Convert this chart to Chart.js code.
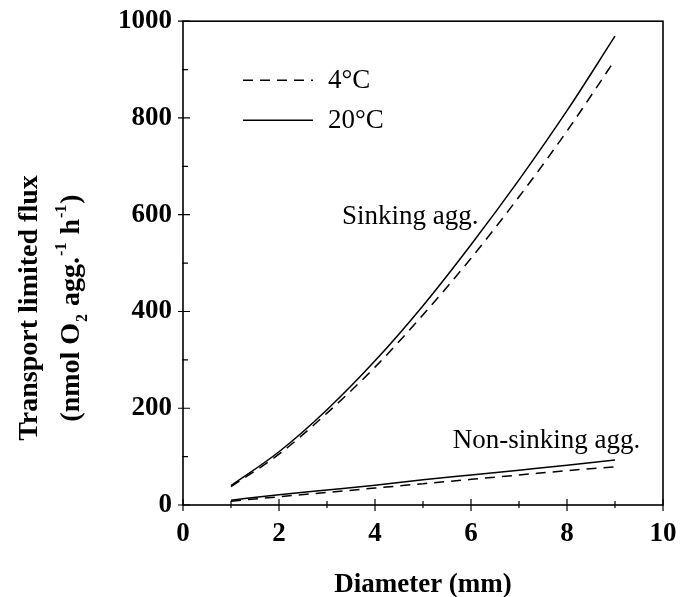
<!DOCTYPE html>
<html>
<head>
<meta charset="utf-8">
<script src="https://cdn.jsdelivr.net/npm/chart.js@4.4.1/dist/chart.umd.min.js"></script>
<style>
  html, body { margin: 0; padding: 0; background: #fff; }
  #wrap { width: 694px; height: 597px; }
</style>
</head>
<body>
<div id="wrap"><canvas id="fluxChart"></canvas></div>
<script>
// aggregate diameter (mm)
const diameters = [1, 2, 3, 4, 5, 6, 7, 8, 9];

// transport limited O2 flux (nmol O2 agg.-1 h-1)
const sinking4 = [38, 105, 190, 285, 393, 510, 637, 773, 920];
const sinking20 = [40, 110, 197, 298, 412, 538, 672, 815, 969];
const still4 = [8, 17, 26, 35, 44, 53, 62, 71, 79];
const still20 = [10, 21, 31, 41, 52, 62, 72, 82, 93];

const seriesLabels = ['4°C', '20°C'];
const curveLabels = ['Sinking agg.', 'Non-sinking agg.'];
const xTitle = 'Diameter (mm)';
const yTitle1 = 'Transport limited flux';

const SERIF = '"Liberation Serif", "Times New Roman", serif';
const DASH = [10, 7];

function pts(ys) {
    return diameters.map((d, i) => ({ x: d, y: ys[i] }));
}

function lineSet(label, ys, dashed) {
    return {
        label: label,
        data: pts(ys),
        borderColor: '#000',
        borderWidth: 1.5,
        borderDash: dashed ? DASH : [],
        pointRadius: 0,
        fill: false,
        cubicInterpolationMode: 'monotone'
    };
}

// frame, inner/outer ticks, legend, curve labels and the y title
const extras = {
    id: 'extras',
    afterDraw(chart) {
        const { ctx, chartArea: a, scales: { x, y } } = chart;
        ctx.save();
        ctx.strokeStyle = '#000';
        ctx.fillStyle = '#000';

        ctx.lineWidth = 1.6;
        ctx.strokeRect(a.left, a.top, a.right - a.left, a.bottom - a.top);

        ctx.lineWidth = 1.2;
        ctx.beginPath();
        x.ticks.forEach(t => {
            const px = x.getPixelForValue(t.value);
            const major = t.value % 2 === 0;
            ctx.moveTo(px, a.bottom - (major ? 6 : 4));
            ctx.lineTo(px, a.bottom + (major ? 6 : 3));
        });
        y.ticks.forEach(t => {
            const py = y.getPixelForValue(t.value);
            const major = t.value % 200 === 0;
            ctx.moveTo(a.left - (major ? 5 : 1), py);
            ctx.lineTo(a.left + (major ? 7 : 5), py);
        });
        ctx.stroke();

        // legend
        ctx.font = '27px ' + SERIF;
        ctx.textBaseline = 'middle';
        ctx.textAlign = 'left';
        const lx = a.left + 60, lw = 70, tx = a.left + 145;
        [[a.top + 59, true], [a.top + 99, false]].forEach(([ly, dashed], i) => {
            ctx.lineWidth = 1.5;
            ctx.setLineDash(dashed ? DASH : []);
            ctx.beginPath();
            ctx.moveTo(lx, ly);
            ctx.lineTo(lx + lw, ly);
            ctx.stroke();
            ctx.setLineDash([]);
            ctx.fillText(seriesLabels[i], tx, ly + 1);
        });

        // curve labels
        ctx.fillText(curveLabels[0], x.getPixelForValue(3.31), y.getPixelForValue(595));
        ctx.fillText(curveLabels[1], x.getPixelForValue(5.62), y.getPixelForValue(133));

        // y axis title, rotated, with sub/superscripts
        ctx.save();
        ctx.rotate(-Math.PI / 2);
        ctx.textAlign = 'center';
        ctx.textBaseline = 'alphabetic';
        ctx.font = 'bold 28px ' + SERIF;
        const cy = 308;
        ctx.fillText(yTitle1, -cy, 37);

        const parts = [
            { t: '(nmol O', s: 0 },
            { t: '2', s: 1 },
            { t: ' agg.', s: 0 },
            { t: '-1', s: -1 },
            { t: ' h', s: 0 },
            { t: '-1', s: -1 },
            { t: ')', s: 0 }
        ];
        const big = 'bold 28px ' + SERIF, small = 'bold 16px ' + SERIF;
        let total = 0;
        parts.forEach(p => {
            ctx.font = p.s ? small : big;
            p.w = ctx.measureText(p.t).width + (p.s ? 2 : 0);
            total += p.w;
        });
        ctx.textAlign = 'left';
        let cx = -cy - total / 2;
        const base = 79;
        parts.forEach(p => {
            ctx.font = p.s ? small : big;
            const off = p.s === 1 ? 8 : p.s === -1 ? -13 : 0;
            ctx.fillText(p.t, cx + (p.s ? 1 : 0), base + off);
            cx += p.w;
        });
        ctx.restore();

        ctx.restore();
    }
};

const config = {
    type: 'line',
    data: {
        datasets: [
            lineSet('4°C', sinking4, true),
            lineSet('20°C', sinking20, false),
            lineSet('4°C', still4, true),
            lineSet('20°C', still20, false)
        ]
    },
    options: {
        responsive: true,
        maintainAspectRatio: false,
        animation: false,
        layout: { padding: { top: 18, right: 31, left: 0, bottom: 0 } },
        plugins: {
            legend: { display: false },
            tooltip: { enabled: false }
        },
        scales: {
            x: {
                type: 'linear',
                min: 0,
                max: 10,
                afterFit: s => { s.height = 92; },
                grid: { display: false, drawTicks: true, tickLength: 6 },
                border: { display: false },
                ticks: {
                    stepSize: 1,
                    padding: 7,
                    color: '#000',
                    maxRotation: 0,
                    autoSkip: false,
                    font: { family: SERIF, size: 27, weight: 'bold' },
                    callback: v => (v % 2 === 0 ? v : '')
                },
                title: {
                    display: true,
                    text: xTitle,
                    color: '#000',
                    font: { family: SERIF, size: 27, weight: 'bold', lineHeight: 0.85 },
                    padding: { top: 0, bottom: 0 }
                }
            },
            y: {
                min: 0,
                max: 1000,
                afterFit: s => { s.width = 183; },
                grid: { display: false, drawTicks: true, tickLength: 6 },
                border: { display: false },
                ticks: {
                    stepSize: 100,
                    padding: 5,
                    color: '#000',
                    autoSkip: false,
                    font: { family: SERIF, size: 27, weight: 'bold' },
                    callback: v => (v % 200 === 0 ? v : '')
                }
            }
        }
    },
    plugins: [extras]
};

document.addEventListener('DOMContentLoaded', function () {
    const ctx = document.getElementById('fluxChart').getContext('2d');
    new Chart(ctx, config);
});
</script>
</body>
</html>
